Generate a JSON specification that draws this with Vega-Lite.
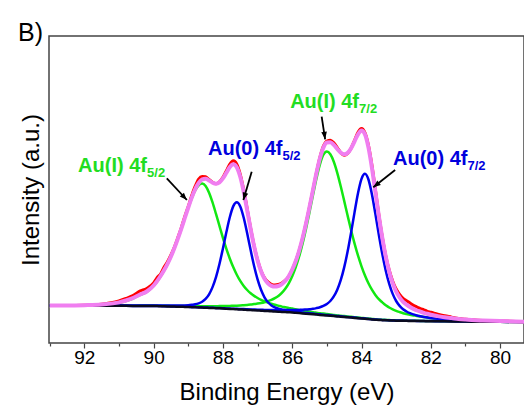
{
  "$schema": "https://vega.github.io/schema/vega-lite/v6.json",
  "width": 475,
  "height": 307,
  "autosize": {"type": "none"},
  "padding": {"left": 49, "top": 36, "right": 0, "bottom": 65},
  "background": "white",
  "title": {"text": "B)", "anchor": "start", "frame": "group", "orient": "top", "dx": -31, "dy": 23, "offset": -7, "fontSize": 25, "fontWeight": "normal", "font": "Liberation Sans", "color": "#000", "baseline": "alphabetic"},
  "config": {
    "view": {"stroke": "#444", "strokeWidth": 1.5},
    "font": "Liberation Sans",
    "axisY": {"labels": false, "ticks": false, "domain": false, "grid": false,
      "titleFontSize": 24, "titleFontWeight": "normal", "titleFont": "Liberation Sans", "titleColor": "#000", "titlePadding": 6}
  },
  "datasets": {
    "s": [
      {"e":93.0,"raw":37.5,"fit":37.5,"g52":37.5,"b52":37.5,"g72":37.5,"b72":37.5,"bg":37.5},
      {"e":92.5,"raw":37.5,"fit":37.5,"g52":37.6,"b52":37.4,"g72":37.4,"b72":37.4,"bg":37.4},
      {"e":92.0,"raw":37.8,"fit":37.8,"g52":37.7,"b52":37.4,"g72":37.3,"b72":37.3,"bg":37.3},
      {"e":91.5,"raw":38.8,"fit":38.5,"g52":38.3,"b52":37.45,"g72":37.25,"b72":37.25,"bg":37.25},
      {"e":91.0,"raw":42.1,"fit":40.6,"g52":40.3,"b52":37.5,"g72":37.35,"b72":37.2,"bg":37.2},
      {"e":90.8,"raw":44.5,"fit":42.5,"g52":42.05,"b52":37.45,"g72":37.35,"b72":37.15,"bg":37.15},
      {"e":90.6,"raw":47.4,"fit":44.9,"g52":44.5,"b52":37.45,"g72":37.35,"b72":37.1,"bg":37.1},
      {"e":90.4,"raw":51.8,"fit":48.3,"g52":47.9,"b52":37.5,"g72":37.4,"b72":37.1,"bg":37.1},
      {"e":90.2,"raw":54.5,"fit":51.5,"g52":51.05,"b52":37.5,"g72":37.4,"b72":37.05,"bg":37.05},
      {"e":90.0,"raw":60.0,"fit":57.5,"g52":57.0,"b52":37.55,"g72":37.4,"b72":37.0,"bg":37.0},
      {"e":89.9,"raw":65.4,"fit":61.9,"g52":61.4,"b52":37.5,"g72":37.3,"b72":37.0,"bg":36.9},
      {"e":89.8,"raw":69.0,"fit":67.0,"g52":66.6,"b52":37.45,"g72":37.25,"b72":36.9,"bg":36.8},
      {"e":89.7,"raw":75.7,"fit":72.7,"g52":72.3,"b52":37.4,"g72":37.2,"b72":36.8,"bg":36.7},
      {"e":89.6,"raw":81.2,"fit":79.2,"g52":78.8,"b52":37.4,"g72":37.15,"b72":36.7,"bg":36.6},
      {"e":89.5,"raw":88.0,"fit":86.5,"g52":86.2,"b52":37.4,"g72":37.1,"b72":36.6,"bg":36.5},
      {"e":89.4,"raw":96.0,"fit":95.0,"g52":94.7,"b52":37.4,"g72":37.1,"b72":36.5,"bg":36.4},
      {"e":89.3,"raw":105.4,"fit":104.4,"g52":104.1,"b52":37.4,"g72":37.05,"b72":36.4,"bg":36.3},
      {"e":89.2,"raw":115.4,"fit":114.4,"g52":114.2,"b52":37.5,"g72":37.0,"b72":36.3,"bg":36.2},
      {"e":89.1,"raw":126.5,"fit":125.0,"g52":124.8,"b52":37.6,"g72":36.95,"b72":36.25,"bg":36.1},
      {"e":89.0,"raw":136.5,"fit":135.5,"g52":135.2,"b52":37.8,"g72":36.9,"b72":36.15,"bg":36.0},
      {"e":88.9,"raw":147.4,"fit":145.4,"g52":144.8,"b52":38.2,"g72":36.85,"b72":36.0,"bg":35.85},
      {"e":88.8,"raw":156.8,"fit":153.8,"g52":152.5,"b52":38.7,"g72":36.8,"b72":35.9,"bg":35.7},
      {"e":88.7,"raw":164.0,"fit":160.0,"g52":157.7,"b52":39.7,"g72":36.8,"b72":35.8,"bg":35.55},
      {"e":88.6,"raw":166.6,"fit":163.6,"g52":159.4,"b52":41.3,"g72":36.8,"b72":35.6,"bg":35.4},
      {"e":88.5,"raw":166.2,"fit":164.2,"g52":157.0,"b52":44.1,"g72":36.8,"b72":35.5,"bg":35.25},
      {"e":88.4,"raw":163.5,"fit":162.5,"g52":150.3,"b52":48.7,"g72":36.8,"b72":35.3,"bg":35.1},
      {"e":88.3,"raw":160.8,"fit":160.3,"g52":140.6,"b52":55.9,"g72":36.8,"b72":35.2,"bg":34.95},
      {"e":88.2,"raw":159.3,"fit":159.3,"g52":129.1,"b52":65.9,"g72":36.8,"b72":35.1,"bg":34.8},
      {"e":88.1,"raw":161.2,"fit":160.7,"g52":117.1,"b52":79.0,"g72":36.9,"b72":34.95,"bg":34.65},
      {"e":88.0,"raw":165.6,"fit":164.6,"g52":105.2,"b52":94.5,"g72":36.9,"b72":34.8,"bg":34.5},
      {"e":87.9,"raw":172.3,"fit":170.3,"g52":94.2,"b52":110.9,"g72":37.0,"b72":34.6,"bg":34.3},
      {"e":87.8,"raw":179.0,"fit":176.0,"g52":84.3,"b52":126.0,"g72":37.1,"b72":34.45,"bg":34.1},
      {"e":87.7,"raw":182.2,"fit":178.7,"g52":75.7,"b52":136.9,"g72":37.2,"b72":34.3,"bg":33.9},
      {"e":87.6,"raw":178.8,"fit":175.8,"g52":68.3,"b52":140.7,"g72":37.3,"b72":34.15,"bg":33.7},
      {"e":87.5,"raw":168.7,"fit":166.2,"g52":62.1,"b52":136.5,"g72":37.5,"b72":34.0,"bg":33.5},
      {"e":87.4,"raw":153.1,"fit":151.1,"g52":57.1,"b52":125.2,"g72":37.8,"b72":33.9,"bg":33.3},
      {"e":87.3,"raw":134.2,"fit":132.7,"g52":53.0,"b52":109.7,"g72":38.1,"b72":33.75,"bg":33.1},
      {"e":87.2,"raw":114.8,"fit":113.8,"g52":49.7,"b52":92.9,"g72":38.4,"b72":33.6,"bg":32.9},
      {"e":87.1,"raw":97.3,"fit":96.8,"g52":47.1,"b52":77.0,"g72":38.9,"b72":33.45,"bg":32.7},
      {"e":87.0,"raw":83.0,"fit":82.5,"g52":45.0,"b52":63.6,"g72":39.4,"b72":33.3,"bg":32.5},
      {"e":86.9,"raw":72.2,"fit":71.7,"g52":43.2,"b52":53.2,"g72":40.0,"b72":33.2,"bg":32.3},
      {"e":86.8,"raw":65.2,"fit":64.2,"g52":41.7,"b52":45.7,"g72":40.8,"b72":33.1,"bg":32.1},
      {"e":86.7,"raw":61.1,"fit":59.6,"g52":40.4,"b52":40.7,"g72":41.9,"b72":33.0,"bg":31.9},
      {"e":86.6,"raw":58.7,"fit":57.2,"g52":39.2,"b52":37.6,"g72":43.2,"b72":32.95,"bg":31.7},
      {"e":86.5,"raw":58.0,"fit":56.5,"g52":38.2,"b52":35.6,"g72":44.9,"b72":32.9,"bg":31.5},
      {"e":86.4,"raw":58.5,"fit":57.0,"g52":37.3,"b52":34.3,"g72":47.1,"b72":32.9,"bg":31.3},
      {"e":86.3,"raw":59.9,"fit":58.9,"g52":36.4,"b52":33.4,"g72":50.2,"b72":32.9,"bg":31.1},
      {"e":86.2,"raw":62.6,"fit":62.1,"g52":35.7,"b52":32.7,"g72":54.3,"b72":32.9,"bg":30.9},
      {"e":86.1,"raw":66.8,"fit":66.8,"g52":35.0,"b52":32.2,"g72":59.7,"b72":32.9,"bg":30.7},
      {"e":86.0,"raw":73.4,"fit":73.4,"g52":34.4,"b52":31.8,"g72":66.8,"b72":33.0,"bg":30.5},
      {"e":85.9,"raw":81.7,"fit":81.7,"g52":33.7,"b52":31.3,"g72":75.6,"b72":33.0,"bg":30.2},
      {"e":85.8,"raw":92.3,"fit":92.3,"g52":33.1,"b52":30.9,"g72":86.5,"b72":33.1,"bg":29.9},
      {"e":85.7,"raw":105.0,"fit":105.0,"g52":32.5,"b52":30.5,"g72":99.5,"b72":33.2,"bg":29.6},
      {"e":85.6,"raw":119.8,"fit":119.8,"g52":31.9,"b52":30.1,"g72":114.5,"b72":33.5,"bg":29.3},
      {"e":85.5,"raw":136.1,"fit":136.1,"g52":31.4,"b52":29.8,"g72":130.9,"b72":33.8,"bg":29.0},
      {"e":85.4,"raw":153.1,"fit":153.1,"g52":30.8,"b52":29.4,"g72":148.0,"b72":34.2,"bg":28.7},
      {"e":85.3,"raw":170.5,"fit":170.0,"g52":30.3,"b52":29.0,"g72":164.6,"b72":34.9,"bg":28.4},
      {"e":85.2,"raw":185.7,"fit":184.7,"g52":29.8,"b52":28.7,"g72":178.7,"b72":35.8,"bg":28.1},
      {"e":85.1,"raw":196.9,"fit":195.4,"g52":29.4,"b52":28.3,"g72":188.3,"b72":37.1,"bg":27.8},
      {"e":85.0,"raw":202.0,"fit":200.5,"g52":28.9,"b52":28.0,"g72":191.5,"b72":39.0,"bg":27.5},
      {"e":84.9,"raw":202.8,"fit":200.8,"g52":28.5,"b52":27.7,"g72":188.7,"b72":42.0,"bg":27.2},
      {"e":84.8,"raw":200.1,"fit":198.1,"g52":28.0,"b52":27.3,"g72":181.3,"b72":46.6,"bg":26.9},
      {"e":84.7,"raw":195.5,"fit":194.0,"g52":27.6,"b52":27.0,"g72":170.2,"b72":53.3,"bg":26.6},
      {"e":84.6,"raw":190.3,"fit":190.3,"g52":27.2,"b52":26.7,"g72":156.7,"b72":62.8,"bg":26.3},
      {"e":84.5,"raw":187.7,"fit":188.7,"g52":26.9,"b52":26.3,"g72":142.1,"b72":75.6,"bg":26.0},
      {"e":84.4,"raw":189.6,"fit":190.1,"g52":26.5,"b52":26.0,"g72":127.2,"b72":91.7,"bg":25.7},
      {"e":84.3,"raw":194.8,"fit":194.8,"g52":26.2,"b52":25.7,"g72":112.8,"b72":110.6,"bg":25.4},
      {"e":84.2,"raw":202.7,"fit":201.7,"g52":25.8,"b52":25.4,"g72":99.4,"b72":130.9,"bg":25.1},
      {"e":84.1,"raw":210.7,"fit":208.7,"g52":25.5,"b52":25.1,"g72":87.3,"b72":150.0,"bg":24.8},
      {"e":84.0,"raw":214.4,"fit":212.4,"g52":25.1,"b52":24.8,"g72":76.7,"b72":164.1,"bg":24.5},
      {"e":83.9,"raw":210.1,"fit":208.6,"g52":24.8,"b52":24.5,"g72":67.5,"b72":169.2,"bg":24.2},
      {"e":83.8,"raw":197.6,"fit":195.6,"g52":24.4,"b52":24.1,"g72":59.7,"b72":163.5,"bg":23.9},
      {"e":83.7,"raw":177.8,"fit":175.3,"g52":24.1,"b52":23.8,"g72":53.3,"b72":148.8,"bg":23.6},
      {"e":83.6,"raw":153.3,"fit":151.3,"g52":23.8,"b52":23.5,"g72":48.1,"b72":129.1,"bg":23.3},
      {"e":83.5,"raw":128.4,"fit":126.9,"g52":23.4,"b52":23.2,"g72":43.8,"b72":108.2,"bg":23.0},
      {"e":83.4,"raw":106.1,"fit":105.1,"g52":23.3,"b52":23.1,"g72":40.6,"b72":88.9,"bg":22.86},
      {"e":83.3,"raw":87.3,"fit":86.3,"g52":23.1,"b52":22.9,"g72":37.7,"b72":72.3,"bg":22.72},
      {"e":83.2,"raw":72.8,"fit":71.3,"g52":22.9,"b52":22.8,"g72":35.5,"b72":59.1,"bg":22.58},
      {"e":83.1,"raw":61.8,"fit":59.8,"g52":22.8,"b52":22.6,"g72":33.6,"b72":49.1,"bg":22.44},
      {"e":83.0,"raw":54.0,"fit":51.5,"g52":22.6,"b52":22.5,"g72":32.1,"b72":42.0,"bg":22.3},
      {"e":82.9,"raw":48.5,"fit":45.5,"g52":22.5,"b52":22.4,"g72":30.9,"b72":37.1,"bg":22.25},
      {"e":82.8,"raw":44.7,"fit":41.2,"g52":22.5,"b52":22.4,"g72":29.8,"b72":33.7,"bg":22.2},
      {"e":82.7,"raw":42.3,"fit":38.3,"g52":22.4,"b52":22.3,"g72":29.0,"b72":31.5,"bg":22.15},
      {"e":82.6,"raw":40.0,"fit":36.0,"g52":22.3,"b52":22.3,"g72":28.2,"b72":29.8,"bg":22.1},
      {"e":82.5,"raw":37.6,"fit":34.1,"g52":22.3,"b52":22.2,"g72":27.6,"b72":28.6,"bg":22.05},
      {"e":82.4,"raw":36.0,"fit":32.5,"g52":22.2,"b52":22.1,"g72":27.0,"b72":27.5,"bg":22.0},
      {"e":82.3,"raw":34.4,"fit":31.4,"g52":22.1,"b52":22.1,"g72":26.5,"b72":26.8,"bg":21.95},
      {"e":82.2,"raw":33.2,"fit":30.2,"g52":22.1,"b52":22.0,"g72":25.9,"b72":26.1,"bg":21.9},
      {"e":82.1,"raw":31.7,"fit":29.2,"g52":22.0,"b52":22.0,"g72":25.5,"b72":25.5,"bg":21.85},
      {"e":82.0,"raw":30.8,"fit":28.3,"g52":22.0,"b52":21.9,"g72":25.0,"b72":25.0,"bg":21.8},
      {"e":81.8,"raw":28.9,"fit":26.9,"g52":21.9,"b52":21.8,"g72":24.3,"b72":24.2,"bg":21.72},
      {"e":81.6,"raw":27.2,"fit":25.7,"g52":21.7,"b52":21.7,"g72":23.6,"b72":23.6,"bg":21.64},
      {"e":81.4,"raw":25.9,"fit":24.9,"g52":21.7,"b52":21.7,"g72":23.2,"b72":23.2,"bg":21.56},
      {"e":81.2,"raw":24.5,"fit":24.0,"g52":21.6,"b52":21.5,"g72":22.7,"b72":22.7,"bg":21.48},
      {"e":81.0,"raw":23.7,"fit":23.4,"g52":21.4,"b52":21.4,"g72":22.4,"b72":22.4,"bg":21.4},
      {"e":80.5,"raw":22.5,"fit":22.5,"g52":21.3,"b52":21.3,"g72":21.8,"b72":21.9,"bg":21.28},
      {"e":80.0,"raw":21.9,"fit":21.9,"g52":21.2,"b52":21.2,"g72":21.5,"b72":21.5,"bg":21.16},
      {"e":79.3,"raw":21.3,"fit":21.3,"g52":21.0,"b52":21.0,"g72":21.1,"b72":21.2,"bg":21.0}
    ],
    "labels": [
      {"e":92.18,"i":171,"t":"Au(I) 4f","sp":"Au(I)"},
      {"e":88.43,"i":188,"t":"Au(0) 4f","sp":"Au(0)"},
      {"e":86.06,"i":235,"t":"Au(I) 4f","sp":"Au(I)"},
      {"e":83.09,"i":178,"t":"Au(0) 4f","sp":"Au(0)"}
    ],
    "subs": [
      {"e":90.19,"i":166,"t":"5/2","sp":"Au(I)"},
      {"e":86.28,"i":183,"t":"5/2","sp":"Au(0)"},
      {"e":84.07,"i":230,"t":"7/2","sp":"Au(I)"},
      {"e":80.94,"i":173,"t":"7/2","sp":"Au(0)"}
    ],
    "arrows": [
      {"id":1,"e":89.62,"i":164.7,"e2":89.04,"i2":143},
      {"id":2,"e":87.17,"i":171.3,"e2":87.41,"i2":143},
      {"id":3,"e":85.15,"i":226.3,"e2":85.05,"i2":203.7},
      {"id":4,"e":83.03,"i":173,"e2":83.66,"i2":155.7}
    ]
  },
  "encoding": {
    "x": {"field": "e", "type": "quantitative",
      "scale": {"domain": [93.02, 79.31], "nice": false, "zero": false},
      "axis": {
        "values": [80,81,82,83,84,85,86,87,88,89,90,91,92,93],
        "labelExpr": "datum.value % 2 === 0 ? datum.label : ''",
        "tickSize": {"condition": {"test": "datum.value % 2 === 0", "value": 5}, "value": 3},
        "tickColor": "#444", "tickWidth": 1.2,
        "domain": false, "grid": false,
        "labelFontSize": 19, "labelFont": "Liberation Sans", "labelColor": "#000",
        "labelPadding": 0, "labelFlush": false, "labelOverlap": false,
        "title": "Binding Energy (eV)", "titleFontSize": 24, "titleFontWeight": "normal",
        "titleFont": "Liberation Sans", "titleColor": "#000", "titlePadding": 13
      }
    }
  },
  "layer": [
    {"data": {"name": "s"},
     "mark": {"type": "line", "color": "#ff0000", "strokeWidth": 3, "interpolate": "monotone"},
     "encoding": {"y": {"field": "raw", "type": "quantitative", "title": "Intensity (a.u.)",
       "scale": {"domain": [0, 307], "nice": false, "zero": false}}}},
    {"data": {"name": "s"},
     "mark": {"type": "line", "color": "#12e812", "strokeWidth": 2.5, "interpolate": "monotone"},
     "encoding": {"y": {"field": "g52", "type": "quantitative", "title": "Intensity (a.u.)"}}},
    {"data": {"name": "s"},
     "mark": {"type": "line", "color": "#12e812", "strokeWidth": 2.5, "interpolate": "monotone"},
     "encoding": {"y": {"field": "g72", "type": "quantitative", "title": "Intensity (a.u.)"}}},
    {"data": {"name": "s"},
     "mark": {"type": "line", "color": "#0000ee", "strokeWidth": 2.5, "interpolate": "monotone"},
     "encoding": {"y": {"field": "b52", "type": "quantitative", "title": "Intensity (a.u.)"}}},
    {"data": {"name": "s"},
     "mark": {"type": "line", "color": "#0000ee", "strokeWidth": 2.5, "interpolate": "monotone"},
     "encoding": {"y": {"field": "b72", "type": "quantitative", "title": "Intensity (a.u.)"}}},
    {"data": {"name": "s"},
     "mark": {"type": "line", "color": "#0a0a1e", "strokeWidth": 2.5, "interpolate": "monotone"},
     "encoding": {"y": {"field": "bg", "type": "quantitative", "title": "Intensity (a.u.)"}}},
    {"data": {"name": "s"},
     "mark": {"type": "line", "color": "#f07ef0", "strokeWidth": 4, "interpolate": "monotone"},
     "encoding": {"y": {"field": "fit", "type": "quantitative", "title": "Intensity (a.u.)"}}},
    {"data": {"name": "arrows"},
     "mark": {"type": "rule", "color": "#000", "strokeWidth": 1.8},
     "encoding": {"y": {"field": "i", "type": "quantitative", "title": "Intensity (a.u.)"},
       "x2": {"field": "e2"}, "y2": {"field": "i2"}}},
    {"data": {"name": "arrows"}, "transform": [{"filter": "datum.id === 1"}],
     "mark": {"type": "point", "shape": "M0,0L-0.38,1L0.38,1Z", "filled": true, "color": "#000", "size": 220, "angle": 137.3, "opacity": 1},
     "encoding": {"x": {"field": "e2", "type": "quantitative"}, "y": {"field": "i2", "type": "quantitative", "title": "Intensity (a.u.)"}}},
    {"data": {"name": "arrows"}, "transform": [{"filter": "datum.id === 2"}],
     "mark": {"type": "point", "shape": "M0,0L-0.38,1L0.38,1Z", "filled": true, "color": "#000", "size": 220, "angle": 196.5, "opacity": 1},
     "encoding": {"x": {"field": "e2", "type": "quantitative"}, "y": {"field": "i2", "type": "quantitative", "title": "Intensity (a.u.)"}}},
    {"data": {"name": "arrows"}, "transform": [{"filter": "datum.id === 3"}],
     "mark": {"type": "point", "shape": "M0,0L-0.38,1L0.38,1Z", "filled": true, "color": "#000", "size": 220, "angle": 171.7, "opacity": 1},
     "encoding": {"x": {"field": "e2", "type": "quantitative"}, "y": {"field": "i2", "type": "quantitative", "title": "Intensity (a.u.)"}}},
    {"data": {"name": "arrows"}, "transform": [{"filter": "datum.id === 4"}],
     "mark": {"type": "point", "shape": "M0,0L-0.38,1L0.38,1Z", "filled": true, "color": "#000", "size": 220, "angle": 231.4, "opacity": 1},
     "encoding": {"x": {"field": "e2", "type": "quantitative"}, "y": {"field": "i2", "type": "quantitative", "title": "Intensity (a.u.)"}}},
    {"data": {"name": "labels"},
     "mark": {"type": "text", "align": "left", "baseline": "alphabetic", "fontSize": 20, "fontWeight": "bold", "font": "Liberation Sans"},
     "encoding": {"y": {"field": "i", "type": "quantitative", "title": "Intensity (a.u.)"}, "text": {"field": "t"},
       "color": {"field": "sp", "type": "nominal", "scale": {"domain": ["Au(I)", "Au(0)"], "range": ["#22dd22", "#0000dd"]}, "legend": null}}},
    {"data": {"name": "subs"},
     "mark": {"type": "text", "align": "left", "baseline": "alphabetic", "fontSize": 13, "fontWeight": "bold", "font": "Liberation Sans"},
     "encoding": {"y": {"field": "i", "type": "quantitative", "title": "Intensity (a.u.)"}, "text": {"field": "t"},
       "color": {"field": "sp", "type": "nominal", "scale": {"domain": ["Au(I)", "Au(0)"], "range": ["#22dd22", "#0000dd"]}, "legend": null}}}
  ]
}
